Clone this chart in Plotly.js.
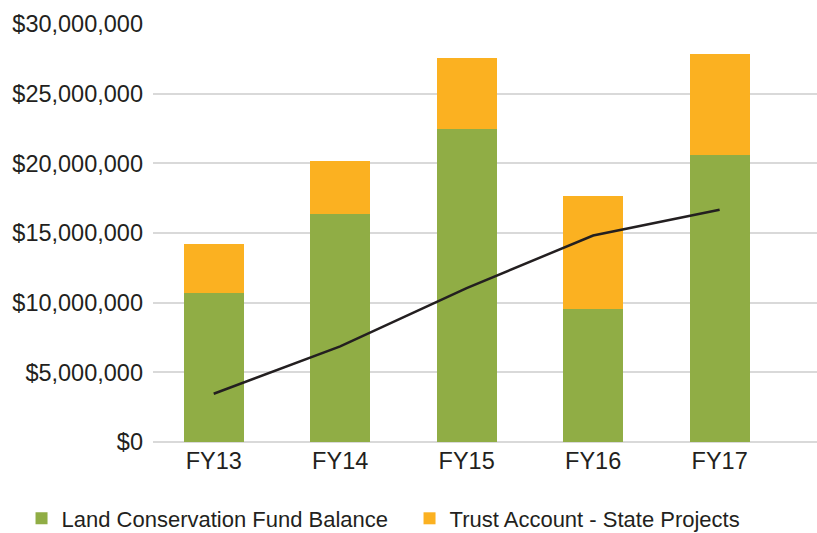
<!DOCTYPE html>
<html>
<head>
<meta charset="utf-8">
<script src="https://cdn.plot.ly/plotly-3.0.1.min.js"></script>
<style>html,body{margin:0;padding:0;background:#fff;}#chart{width:817px;height:533px;}</style>
</head>
<body>
<div id="chart"></div>
<script>
const categories = ["FY13", "FY14", "FY15", "FY16", "FY17"];
const landConservationFund = [10680000, 16350000, 22430000, 9510000, 20570000];
const trustAccountState = [3500000, 3790000, 5100000, 8110000, 7250000];
const trendLine = [3460000, 6860000, 11050000, 14820000, 16670000];
const yTickVals = [0, 5000000, 10000000, 15000000, 20000000, 25000000, 30000000];
const yTickText = yTickVals.map(v => "$" + v.toLocaleString("en-US"));

const font = {family: "Liberation Sans, Arial, sans-serif", size: 22, color: "#231f20"};
const tickFont = {family: "Liberation Sans, Arial, sans-serif", size: 23.5, color: "#231f20"};

const traces = [
  {type: "bar", name: "Land Conservation Fund Balance", x: categories, y: landConservationFund,
   marker: {color: "#90ad45"}, width: 0.474, hoverinfo: "y"},
  {type: "bar", name: "Trust Account - State Projects", x: categories, y: trustAccountState,
   marker: {color: "#fbb121"}, width: 0.474, hoverinfo: "y"},
  {type: "scatter", mode: "lines", name: "Trend", x: categories, y: trendLine,
   line: {color: "#231f20", width: 2.5}, showlegend: false, hoverinfo: "y"}
];

const layout = {
  width: 817, height: 533,
  margin: {l: 153, r: 0, t: 24, b: 91, pad: 0, autoexpand: false},
  barmode: "stack",
  paper_bgcolor: "#ffffff", plot_bgcolor: "#ffffff",
  font: font,
  showlegend: true,
  legend: {orientation: "h", x: -0.198, xanchor: "left", y: -0.183, yanchor: "middle",
           entrywidth: 343, font: font, traceorder: "normal", bgcolor: "rgba(0,0,0,0)"},
  xaxis: {type: "category", range: [-0.48, 4.77], showgrid: false, zeroline: false,
          showline: false, ticks: "", tickfont: tickFont, ticklabelstandoff: 2, fixedrange: true},
  yaxis: {range: [0, 30000000], tickmode: "array", tickvals: yTickVals, ticktext: yTickText,
          showgrid: true, gridcolor: "#d9d9d9", gridwidth: 2, zeroline: true,
          zerolinecolor: "#d9d9d9", zerolinewidth: 2, showline: false, ticks: "",
          ticklabelstandoff: 9, tickfont: tickFont, fixedrange: true}
};

Plotly.newPlot("chart", traces, layout, {displayModeBar: false, staticPlot: true});
</script>
</body>
</html>
